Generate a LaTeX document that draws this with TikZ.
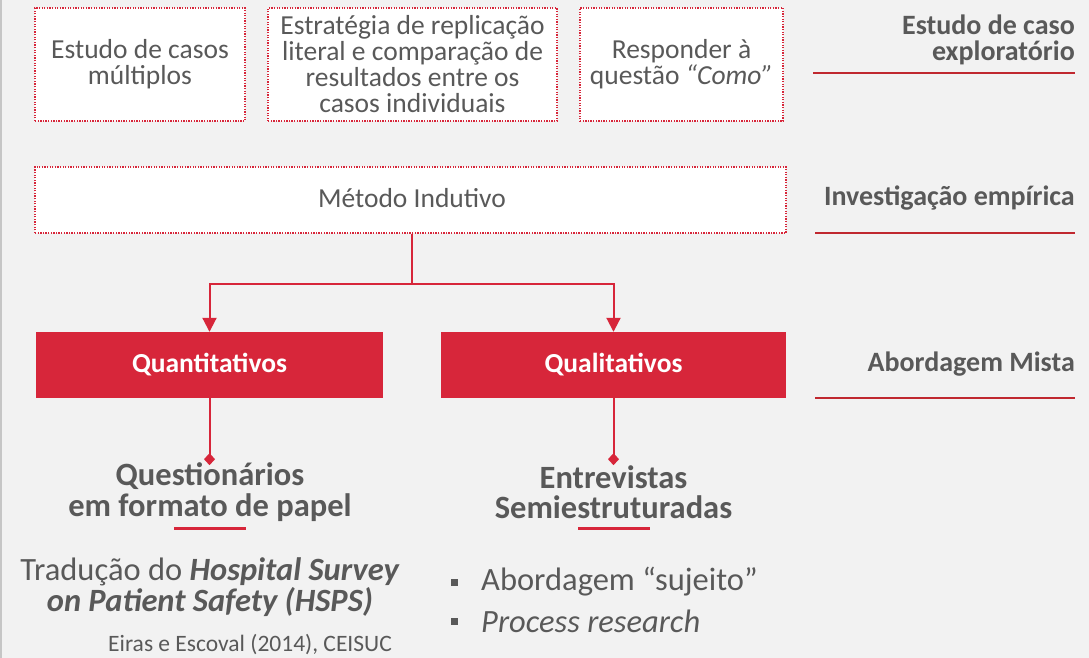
\documentclass[tikz,border=0pt]{standalone}
\usepackage{fontspec}
\setmainfont{Carlito}
\usetikzlibrary{arrows.meta, positioning}
\definecolor{SlideRed}{HTML}{D7263A}
\definecolor{SlideDarkRed}{HTML}{C0282F}
\definecolor{SlideGray}{HTML}{595959}
\definecolor{SlideBack}{HTML}{F2F2F2}
\newcommand{\sz}[2]{\fontsize{#1}{#2}\selectfont}

\begin{document}
\begin{tikzpicture}[x = 1pt, y = -1pt, node distance = 2em]%
    %
    \tikzstyle{arrow} = [-{Triangle[width = 14pt, length = 14pt]}, draw = SlideRed, line width = 2pt]%
    \tikzstyle{pinline} = [-{Diamond[width = 11pt, length = 12pt]}, draw = SlideRed, line width = 2pt]%
    \tikzstyle{dotbox} = [rectangle, draw = SlideRed, fill = white, dash pattern = on 1.3pt off 1.3pt, line width = 1.3pt, text = SlideGray, align = center, inner sep = 0pt, minimum height = 113pt, font = \sz{27.5}{26}]%
    \tikzstyle{redbox} = [rectangle, fill = SlideRed, text = white, minimum height = 66pt, inner sep = 0pt, font = \bfseries\sz{27.5}{26}]%
    \tikzstyle{sidelabel} = [anchor = east, align = right, text = SlideGray, inner sep = 0pt, font = \bfseries\sz{28}{26}]%
    \tikzstyle{sideline} = [draw = SlideDarkRed, line width = 2pt]%
    \tikzstyle{stacktitle} = [align = center, text = SlideGray, inner sep = 0pt, font = \bfseries\sz{32.5}{30.5}]%
    \tikzstyle{underline} = [draw = SlideRed, line width = 3pt]%
    \tikzstyle{plaintext} = [align = center, text = SlideGray, inner sep = 0pt, font = \sz{32.5}{29}]%
    \tikzstyle{bulletmark} = [rectangle, fill = SlideGray, minimum size = 7pt, inner sep = 0pt]%
    %
    \fill [SlideBack] (0, 0) rectangle (1089, 658);%
    \useasboundingbox (0, 0) rectangle (1089, 658);%
    \draw [gray!45, line width = 2pt] (1, 0) -- (1, 658);%
    %
    % case study boxes
    \node [dotbox, minimum width = 210pt] (multiple-cases) at (140, 64.5) {Estudo de casos\\múltiplos};%
    \node [dotbox, minimum width = 289pt] (replication) at (412.5, 64.5) {Estratégia de replicação\\literal e comparação de\\resultados entre os\\casos individuais};%
    \node [dotbox, minimum width = 203pt] (how-question) at (681.5, 64.5) {Responder à\\questão \textit{“Como”}};%
    %
    \node [dotbox, minimum width = 751pt, minimum height = 66pt] (method-box) at (410.5, 200) {};%
    \node [text = SlideGray, inner sep = 0pt, font = \sz{27.5}{26}] (method) at (412, 198) {Método Indutivo};%
    %
    \node [redbox, minimum width = 347pt] (quantitative) at (209.5, 365) {Quantitativos};%
    \node [redbox, minimum width = 345pt] (qualitative) at (613.5, 365) {Qualitativos};%
    %
    \path [arrow] (method |- method-box.south) -- ++(0, 50) -| (quantitative.north);%
    \path [arrow] (method |- method-box.south) -- ++(0, 50) -| (qualitative.north);%
    %
    % side labels
    \node [sidelabel] (exploratory) at (1075, 40) {Estudo de caso\\exploratório};%
    \node [sidelabel] (empirical) at (1075, 198) {Investigação empírica};%
    \node [sidelabel] (mixed) at (1075, 364) {Abordagem Mista};%
    \path [sideline] (813, 73) -- (1075, 73);%
    \path [sideline] (815, 233) -- (1075, 233);%
    \path [sideline] (815, 398) -- (1075, 398);%
    %
    % quantitative branch
    \coordinate [below = 67pt of quantitative.south] (quant-end);%
    \path [pinline] (quantitative.south) -- (quant-end);%
    \node [stacktitle] (questionnaires) at (210, 492) {Questionários\\em formato de papel};%
    \path [underline] (174, 528) -- (246, 528);%
    \node [plaintext] (translation) at (210, 587) {Tradução do \textbf{\textit{Hospital Survey}}\\\textbf{\textit{on Patient Safety (HSPS)}}};%
    \node [plaintext, font = \sz{23.5}{24}] (citation) at (250, 645) {Eiras e Escoval (2014), CEISUC};%
    %
    % qualitative branch
    \coordinate [below = 67pt of qualitative.south] (qual-end);%
    \path [pinline] (qualitative.south) -- (qual-end);%
    \node [stacktitle] (interviews) at (613.5, 492) {Entrevistas\\Semiestruturadas};%
    \path [underline] (578, 528) -- (650, 528);%
    \node [plaintext, anchor = west] (subject) at (481, 582) {Abordagem “sujeito”};%
    \node [plaintext, anchor = west] (process) at (481, 621) {\textit{Process research}};%
    \node [bulletmark, left = 23pt of subject] {};%
    \node [bulletmark, left = 23pt of process] {};%
    %
\end{tikzpicture}
\end{document}
